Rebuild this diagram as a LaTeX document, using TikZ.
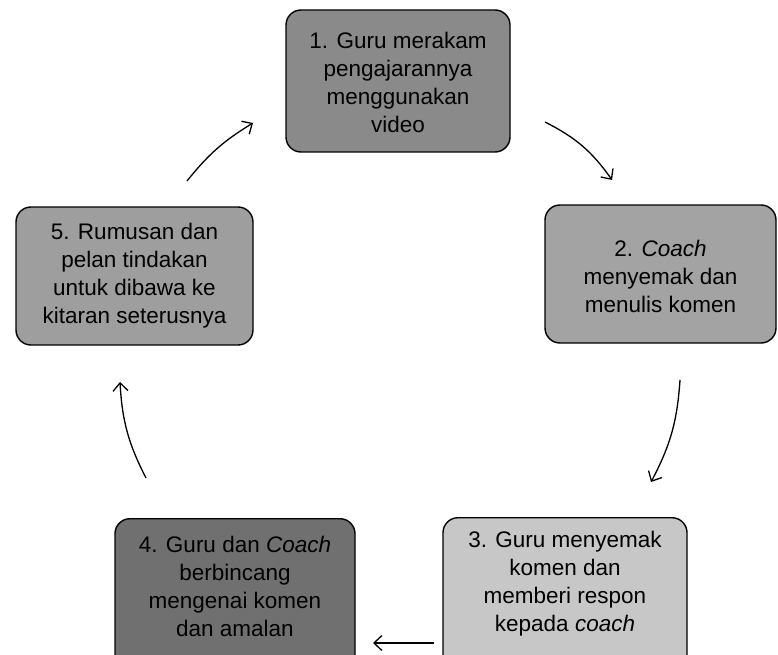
\documentclass[tikz,border=0pt]{standalone}
\usepackage{fontspec}
\setmainfont{Liberation Sans}
\usetikzlibrary{arrows.meta}
\begin{document}
\begin{tikzpicture}[x=1pt,y=-1pt,
  boxst/.style={draw=black, line width=1.4pt, rounded corners=15pt, inner sep=0pt},
  txt/.style={align=center, font=\fontsize{22.5}{28}\selectfont, inner sep=0pt},
  arr/.style={line width=1.3pt, -{Straight Barb[length=8pt,width=15pt,line width=1.3pt]}}]
\useasboundingbox (0,0) rectangle (778,655);
\clip (0,0) rectangle (778,655);
% boxes
\node[boxst, fill=black!46, minimum width=224, minimum height=142] (b1) at (398,81) {};
\node[txt] (t1) at (398,82) {1. Guru merakam\\pengajarannya\\menggunakan\\video};
\node[boxst, fill=black!36, minimum width=231, minimum height=138] (b2) at (660.5,274) {};
\node[txt] (t2) at (660.5,276) {2. \textit{Coach}\\menyemak dan\\menulis komen};
\node[boxst, fill=black!22, minimum width=244, minimum height=160, anchor=north] (b3) at (565,517) {};
\node[txt] (t3) at (565,584) {3. Guru menyemak\\komen dan\\memberi respon\\kepada \textit{coach}};
\node[boxst, fill=black!56, minimum width=240, minimum height=160, anchor=north] (b4) at (235,518) {};
\node[txt] (t4) at (235,586) {4. Guru dan \textit{Coach}\\berbincang\\mengenai komen\\dan amalan};
\node[boxst, fill=black!38, minimum width=237, minimum height=138] (b5) at (134.5,276) {};
\node[txt] (t5) at (134.5,276) {5. Rumusan dan\\pelan tindakan\\untuk dibawa ke\\kitaran seterusnya};
% arrow end points
\coordinate (a1s) at (545,122); \coordinate (a1e) at (612,180);
\coordinate (a2s) at (680,380); \coordinate (a2e) at (651,482);
\coordinate (a3s) at (434,643); \coordinate (a3e) at (373,643);
\coordinate (a4s) at (146,478); \coordinate (a4e) at (120,382);
\coordinate (a5s) at (187,181); \coordinate (a5e) at (253,123);
\draw[arr] (a1s) to[bend left=14] (a1e);
\draw[arr] (a2s) to[bend left=12] (a2e);
\draw[arr] (a3s) -- (a3e);
\draw[arr] (a4s) to[bend left=12] (a4e);
\draw[arr] (a5s) to[bend left=10] (a5e);
\end{tikzpicture}
\end{document}
